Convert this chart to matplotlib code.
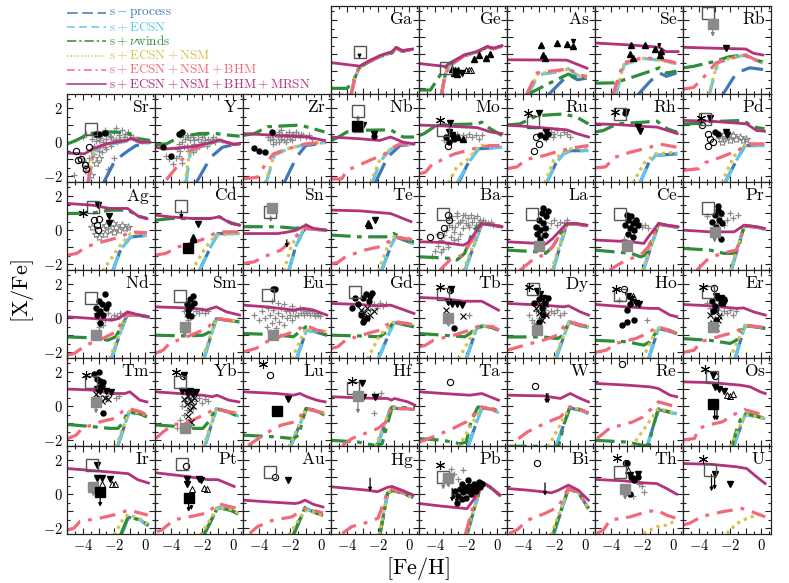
import matplotlib
matplotlib.use('Agg')
import matplotlib.pyplot as plt
from matplotlib.lines import Line2D
from matplotlib.ticker import MultipleLocator, FuncFormatter

plt.rcParams['mathtext.fontset'] = 'cm'
plt.rcParams['font.family'] = 'serif'

# panel order, None = empty slot (legend lives there)
LAYOUT = [[None, None, None, 'Ga', 'Ge', 'As', 'Se', 'Rb'],
          ['Sr', 'Y', 'Zr', 'Nb', 'Mo', 'Ru', 'Rh', 'Pd'],
          ['Ag', 'Cd', 'Sn', 'Te', 'Ba', 'La', 'Ce', 'Pr'],
          ['Nd', 'Sm', 'Eu', 'Gd', 'Tb', 'Dy', 'Ho', 'Er'],
          ['Tm', 'Yb', 'Lu', 'Hf', 'Ta', 'W', 'Re', 'Os'],
          ['Ir', 'Pt', 'Au', 'Hg', 'Pb', 'Bi', 'Th', 'U']]

# ---- model curves: element -> ([Fe/H] knots], [X/Fe] knots) ----
MRSN = {
    'Ga': ([-5, -3.2, -2.5, -1.8, -1.1, -0.85, -0.45, 0.2], [-0.5, -0.7, -0.35, -0.05, 0.15, 0.4, 0.2, 0.3]),
    'Ge': ([-5, -3.35, -2.15, -1.3, -0.65, -0.25, 0.3], [-0.55, -0.72, -0.05, 0.16, 0.45, 0.35, 0.5]),
    'As': ([-5, -1.2, 0.1], [-0.33, -0.35, -0.82]),
    'Se': ([-5, -3.0, -1.5, -0.9, -0.5, 0.3], [0.65, 0.55, 0.45, 0.4, 0.15, 0.15]),
    'Rb': ([-5, -3.1, -1.0, -0.5, 0.1], [0.4, 0.35, 0.3, 0.05, -0.05]),
    'Sr': ([-5, -3.9, -3.4, -2.5, -1.2, -0.9, -0.3, 0.3], [-0.64, -0.68, -0.4, -0.1, 0.1, 0.23, 0.0, 0.0]),
    'Y': ([-5, -4.3, -2.5, -1.3, -0.9, 0.0, 0.4], [-0.3, -0.4, -0.25, 0.0, 0.14, -0.14, -0.1]),
    'Zr': ([-5, -2.9, -0.9, 0.2], [0.5, 0.4, 0.3, 0.1]),
    'Nb': ([-5, -3.2, -1.9, -1.2, -0.4, 0.3], [0.3, 0.2, 0.1, 0.3, 0.0, -0.1]),
    'Mo': ([-5, -3.5, -1.3, -0.45, 0.3], [1.0, 0.95, 0.85, 0.6, 0.5]),
    'Ru': ([-5, -3.55, -2.25, -1.2, -0.55, 0.2], [1.0, 0.9, 0.8, 0.72, 0.5, 0.3]),
    'Rh': ([-5, -3.6, -1.9, -1.05, 0.25], [1.07, 1.03, 0.92, 0.88, 0.5]),
    'Pd': ([-5, -3.3, -0.95, -0.3, 0.2], [1.27, 1.23, 1.07, 0.68, 0.64]),
    'Ag': ([-5, -3.4, -2.3, -1.15, -0.4, 0.1], [1.56, 1.46, 1.27, 1.27, 0.78, 0.68]),
    'Cd': ([-5, -4.1, -2.6, -1.5, -0.9, -0.15, 0.4], [0.88, 0.78, 0.68, 0.68, 0.78, 0.39, 0.29]),
    'Sn': ([-5, -2.8, -2.1, -1.6, -1.0, -0.5, 0.3], [-0.2, -0.2, -0.1, 0.0, 0.3, 0.1, 0.0]),
    'Te': ([-5, -3.2, -1.2, 0.1], [1.17, 1.13, 0.97, 0.5]),
    'Ba': ([-5, -3.5, -2.2, -1.9, -1.0, -0.3, 0.3], [-0.68, -0.72, -0.88, -0.75, 0.39, 0.3, 0.2]),
    'La': ([-5, -3.0, -2.55, -2.1, -1.2, -0.6, 0.1], [-0.68, -0.78, -0.82, -0.49, 0.39, 0.39, 0.29]),
    'Ce': ([-5, -2.7, -1.9, -1.6, -0.95, -0.4, 0.3], [-0.58, -0.68, -0.78, -0.39, 0.39, 0.29, 0.2]),
    'Pr': ([-5, -3.3, -1.75, -1.1, -0.3, 0.2], [0.0, -0.1, -0.1, 0.29, 0.2, 0.1]),
    'Nd': ([-5, -3.4, -2.15, -1.7, -1.15, -0.4, 0.2], [0.08, -0.02, -0.12, -0.02, 0.37, 0.18, 0.08]),
    'Sm': ([-5, -3.0, -2.15, -1.75, -1.1, -0.45, 0.4], [0.66, 0.6, 0.53, 0.47, 0.66, 0.37, 0.18]),
    'Eu': ([-5, -3.5, -1.8, -1.15, -0.5, 0.35], [0.76, 0.66, 0.47, 0.57, 0.47, 0.18]),
    'Gd': ([-5, -3.2, -2.1, -1.2, -0.3, 0.3], [0.86, 0.8, 0.72, 0.76, 0.47, 0.27]),
    'Tb': ([-5, -3.47, -2.18, -1.0, 0.07], [1.21, 1.15, 0.99, 0.99, 0.47]),
    'Dy': ([-5, -2.69, -1.4, -1.08, -0.33, 0.2], [0.86, 0.76, 0.66, 0.72, 0.37, 0.18]),
    'Ho': ([-5, -3.0, -1.5, -0.96, -0.21, 0.22], [0.8, 0.66, 0.57, 0.57, 0.18, 0.08]),
    'Er': ([-5, -3.29, -1.58, -1.15, -0.5, 0.25], [0.8, 0.72, 0.57, 0.6, 0.37, 0.18]),
    'Tm': ([-5, -3.4, -2.15, -1.3, -1.0, -0.35, 0.1], [1.0, 0.94, 0.74, 0.74, 0.84, 0.35, 0.25]),
    'Yb': ([-5, -3.5, -2.0, -1.35, -1.05, -0.3, 0.35], [0.84, 0.74, 0.64, 0.55, 0.64, 0.35, 0.25]),
    'Lu': ([-5, -2.87, -1.8, -1.37, -0.94, -0.3, 0.24], [0.84, 0.74, 0.64, 0.74, 0.55, 0.35, 0.25]),
    'Hf': ([-5, -3.3, -2.0, -1.4, -1.15, -0.95, -0.1, 0.35], [0.55, 0.49, 0.45, 0.45, 0.35, 0.45, 0.25, 0.06]),
    'Ta': ([-5, -3.47, -1.76, -1.0, 0.07], [0.84, 0.74, 0.64, 0.74, 0.35]),
    'W': ([-5, -2.7, -1.6, -0.97, -0.33, 0.2], [0.64, 0.6, 0.45, 0.74, 0.45, 0.25]),
    'Re': ([-5, -3.0, -1.5, -0.96, -0.21, 0.22], [1.33, 1.23, 1.13, 1.03, 0.64, 0.55]),
    'Os': ([-5, -3.29, -1.36, -0.72, -0.07, 0.25], [1.42, 1.38, 1.23, 1.13, 0.84, 0.74]),
    'Ir': ([-5, -3.0, -1.1, -0.5, 0.2], [1.5, 1.35, 1.2, 0.85, 0.65]),
    'Pt': ([-5, -3.1, -1.65, -1.0, 0.05], [1.25, 1.05, 0.85, 0.85, 0.45]),
    'Au': ([-5, -3.5, -1.7, -1.4, -1.05, -0.5, 0.1], [-0.35, -0.45, -0.55, -0.5, -0.35, -0.6, -0.75]),
    'Hg': ([-5, -2.7, -2.05, -1.4, -1.1, -0.4, 0.25], [0.43, 0.23, 0.14, 0.4, 0.45, 0.2, -0.05]),
    'Pb': ([-5, -3.6, -1.95, -1.54, -1.0, -0.47, 0.17], [-0.55, -0.7, -0.85, -0.35, 0.72, 0.43, -0.06]),
    'Bi': ([-5, -3.66, -2.16, -1.73, -1.09, -0.45, 0.2], [0.33, 0.23, 0.08, 0.23, 0.53, 0.23, -0.35]),
    'Th': ([-5, -3.21, -1.93, -1.07, -0.43, 0.21], [0.86, 0.78, 0.66, 0.62, 0.33, 0.0]),
    'U': ([-5, -3.29, -1.58, -0.94, -0.3, 0.24], [1.79, 1.75, 1.6, 1.5, 1.01, 0.62]),
}

BHM = {
    'Ga': ([-3.75, -3.5, -3.2, -2.5, -1.8, -1.1, -0.85, -0.45, 0.2], [-2.4, -1.4, -0.75, -0.4, -0.1, 0.1, 0.38, 0.18, 0.28]),
    'Ge': ([-3.6, -3.35, -3.1, -2.15, -1.3, -0.65, -0.25, 0.3], [-2.4, -1.2, -0.7, -0.1, 0.12, 0.42, 0.32, 0.47]),
    'As': ([-3.8, -3.1, -1.4, -1.1, -0.5, 0.1], [-2.4, -1.1, -0.9, -0.8, -1.2, -1.3]),
    'Se': ([-3.9, -3.2, -1.9, -0.9, 0.2], [-2.4, -0.5, -0.2, -0.3, -0.5]),
    'Rb': ([-5, -4.35, -3.75, -2.9, -1.4, -1.0, -0.35, 0.1], [-2.05, -1.95, -1.4, -0.5, -0.1, -0.05, -0.35, -0.5]),
    'Sr': ([-3.7, -3.3, -2.5, -1.2, -0.9, -0.3, 0.3], [-2.4, -0.4, -0.1, 0.08, 0.22, 0.0, 0.0]),
    'Y': ([-4.3, -3.5, -3.2, -2.8, -1.9, -1.0, 0.0, 0.4], [-2.2, -1.3, -0.9, -0.5, -0.2, 0.1, -0.1, -0.1]),
    'Zr': ([-5, -4.1, -3.7, -3.1, -2.2, -1.0, 0.3], [-2.15, -2.05, -1.45, -0.7, -0.4, -0.1, 0.0]),
    'Nb': ([-5, -4.35, -4.0, -2.5, -1.6, -1.2, -0.6, 0.3], [-2.15, -2.15, -1.65, -1.05, -0.7, -0.4, -0.1, -0.1]),
    'Mo': ([-5, -4.6, -4.1, -3.7, -2.8, -1.95, -1.2, -0.45, 0.3], [-1.85, -1.75, -1.2, -1.1, -0.7, -0.5, -0.3, -0.2, -0.2]),
    'Ru': ([-5, -4.4, -3.75, -2.7, -1.6, -0.55, 0.2], [-1.55, -1.45, -1.0, -0.8, -0.5, -0.3, -0.2]),
    'Rh': ([-5, -4.35, -3.8, -2.8, -1.5, -0.95, 0.25], [-1.5, -1.45, -0.9, -0.6, -0.3, -0.1, -0.3]),
    'Pd': ([-5, -4.0, -3.6, -2.6, -1.55, -0.8, 0.2], [-1.65, -1.55, -1.2, -0.88, -0.5, -0.1, -0.1]),
    'Ag': ([-5, -4.4, -3.8, -2.75, -1.6, -0.95, 0.1], [-1.46, -1.36, -0.97, -0.68, -0.4, -0.1, -0.15]),
    'Cd': ([-5, -4.35, -3.5, -2.4, -1.55, -1.1, 0.4], [-1.46, -1.36, -0.97, -0.68, -0.4, -0.1, -0.1]),
    'Sn': ([-5, -4.3, -3.7, -2.6, -2.0, -1.45, -1.0, 0.3], [-1.95, -1.85, -1.56, -1.17, -0.68, -0.2, 0.1, 0.0]),
    'Te': ([-5, -4.6, -4.1, -2.9, -1.9, -1.35, -1.0, 0.3], [-1.95, -1.9, -1.56, -1.17, -0.97, -0.68, -0.39, -0.58]),
    'Ba': ([-3.7, -3.0, -2.2, -1.9, -1.0, -0.2, 0.3], [-2.35, -1.7, -1.45, -1.0, 0.39, 0.3, 0.2]),
    'La': ([-4.2, -3.4, -2.5, -2.1, -1.2, -0.6, 0.1], [-2.35, -1.75, -1.36, -0.97, 0.37, 0.37, 0.27]),
    'Ce': ([-4.1, -3.6, -3.0, -2.1, -1.6, -0.95, -0.4, 0.3], [-2.35, -2.05, -1.75, -1.46, -0.97, 0.37, 0.27, 0.18]),
    'Pr': ([-4.15, -3.5, -2.6, -1.6, -1.3, -1.1, -0.3, 0.2], [-2.35, -1.75, -1.36, -1.17, -0.39, 0.27, 0.18, 0.08]),
    'Nd': ([-5, -4.56, -3.81, -2.74, -1.88, -1.24, -0.4, 0.2], [-2.16, -2.07, -1.58, -1.19, -0.8, 0.2, 0.18, 0.08]),
    'Sm': ([-5, -4.5, -4.1, -3.0, -2.2, -1.6, -1.1, -0.4, 0.4], [-2.05, -1.87, -1.48, -1.09, -0.8, -0.51, -0.02, -0.1, -0.2]),
    'Eu': ([-5, -4.2, -3.5, -2.7, -1.8, -1.0, -0.3, 0.35], [-1.97, -1.77, -1.38, -1.09, -0.8, -0.41, -0.7, -0.8]),
    'Gd': ([-5, -4.6, -4.1, -2.7, -1.9, -1.5, -1.0, -0.2, 0.3], [-1.77, -1.68, -1.29, -0.9, -0.7, -0.41, -0.2, -0.3, -0.4]),
    'Tb': ([-5, -4.6, -4.1, -2.8, -1.75, -1.33, -1.0, -0.3, 0.1], [-1.68, -1.58, -1.29, -1.0, -0.7, -0.51, -0.45, -0.5, -0.7]),
    'Dy': ([-5, -4.6, -3.9, -2.7, -1.8, -1.4, -1.05, -0.3, 0.2], [-1.87, -1.77, -1.58, -1.29, -1.0, -0.51, -0.2, -0.4, -0.5]),
    'Ho': ([-5, -4.3, -3.7, -2.4, -1.7, -1.0, -0.3, 0.2], [-2.0, -1.87, -1.48, -1.19, -0.9, -0.51, -0.7, -0.9]),
    'Er': ([-5, -4.3, -3.9, -2.4, -1.6, -1.05, -0.3, 0.25], [-2.0, -1.87, -1.38, -0.99, -0.8, -0.41, -0.5, -0.55]),
    'Tm': ([-5, -4.45, -4.05, -2.9, -2.0, -1.5, -1.05, -0.3, 0.1], [-1.9, -1.7, -1.3, -0.92, -0.72, -0.33, -0.14, -0.33, -0.53]),
    'Yb': ([-5, -4.5, -3.9, -2.6, -1.95, -1.1, -0.3, 0.35], [-1.9, -1.5, -1.11, -0.82, -0.53, -0.14, -0.33, -0.4]),
    'Lu': ([-4.7, -4.05, -3.6, -2.55, -1.7, -1.3, -0.95, -0.3, 0.2], [-2.3, -1.9, -1.6, -1.1, -0.92, -0.53, -0.14, -0.3, -0.4]),
    'Hf': ([-4.3, -3.7, -2.85, -2.0, -1.5, -1.2, -0.2, 0.3], [-2.3, -1.9, -1.6, -1.3, -0.92, -0.14, -0.14, -0.2]),
    'Ta': ([-5, -4.4, -3.0, -2.0, -1.35, -1.0, -0.3, 0.1], [-2.1, -1.9, -1.37, -0.92, -0.33, -0.05, -0.2, -0.4]),
    'W': ([-4.3, -3.7, -2.4, -1.6, -1.0, -0.3, 0.2], [-1.9, -1.5, -0.92, -0.63, -0.05, -0.2, -0.4]),
    'Re': ([-4.9, -4.1, -2.6, -1.95, -0.96, -0.21, 0.22], [-1.9, -1.3, -0.92, -0.63, 0.25, 0.06, -0.04]),
    'Os': ([-5, -4.3, -4.0, -3.4, -2.5, -1.85, -1.4, -1.1, -0.3, 0.25], [-1.97, -1.9, -1.3, -1.1, -0.92, -0.53, -0.33, -0.2, -0.4, -0.6]),
    'Ir': ([-5, -4.6, -4.2, -2.9, -1.95, -1.1, -0.35, 0.15], [-2.1, -2.0, -1.6, -1.4, -1.2, -0.94, -1.1, -1.23]),
    'Pt': ([-4.9, -4.6, -3.8, -2.7, -1.65, -1.0, -0.15, 0.3], [-2.2, -2.1, -1.5, -1.3, -1.1, -0.55, -0.75, -0.85]),
    'Au': ([-4.6, -4.1, -3.2, -1.9, -1.05, -0.5, 0.1], [-2.3, -1.9, -1.55, -1.33, -0.85, -0.95, -1.1]),
    'Hg': ([-4.3, -3.7, -2.5, -2.0, -1.7, -1.4, -1.1, -0.4, 0.25], [-2.3, -1.9, -1.6, -1.4, -0.6, 0.15, 0.3, 0.1, -0.15]),
    'Pb': ([-2.05, -1.5, -1.0, -0.47, 0.17], [-2.35, -0.5, 0.7, 0.41, -0.08]),
    'Bi': ([-4.9, -4.4, -3.66, -2.6, -1.73, -1.1, -0.45, 0.2], [-2.3, -2.1, -1.5, -1.13, -0.74, 0.33, 0.14, -0.84]),
    'Th': ([-4.92, -4.49, -4.06, -2.78, -1.71, -1.07, -0.43, 0.21], [-2.3, -2.1, -1.52, -1.33, -1.03, -0.94, -1.23, -1.42]),
    'U': ([-5, -4.6, -3.8, -2.5, -1.25, -0.6, 0.25], [-1.8, -1.7, -1.3, -1.03, -0.84, -1.03, -1.33]),
}

NSM = {
    'Ga': BHM['Ga'], 'Ge': BHM['Ge'],
    'As': ([-3.75, -3.05, -1.4, -1.1, -0.5, 0.1], [-2.4, -1.15, -0.95, -0.85, -1.25, -1.35]),
    'Se': ([-3.75, -3.15, -1.9, -0.9, 0.2], [-2.4, -0.55, -0.25, -0.35, -0.55]),
    'Rb': ([-3.4, -2.8, -1.4, -1.0, -0.35, 0.1], [-2.4, -0.45, -0.1, -0.05, -0.35, -0.5]),
    'Sr': ([-3.7, -3.3, -2.5, -1.2, -0.9, -0.3, 0.3], [-2.4, -0.45, -0.12, 0.06, 0.2, -0.02, -0.02]),
    'Y': ([-3.1, -2.8, -1.9, -1.0, 0.0, 0.4], [-2.4, -0.5, -0.2, 0.1, -0.1, -0.1]),
    'Zr': ([-3.6, -3.0, -2.2, -1.0, 0.3], [-2.4, -0.7, -0.4, -0.1, 0.0]),
    'Nb': ([-2.5, -1.9, -1.2, -0.6, 0.3], [-2.4, -1.05, -0.4, -0.1, -0.1]),
    'Mo': ([-3.15, -2.6, -1.85, -1.4, -1.2, 0.3], [-2.4, -1.45, -0.97, -0.5, -0.2, -0.2]),
    'Ru': ([-2.6, -2.05, -1.4, -0.95, 0.2], [-2.4, -1.07, -0.58, -0.39, -0.3]),
    'Rh': ([-2.6, -1.9, -1.15, 0.25], [-2.4, -1.26, -0.68, -0.6]),
    'Pd': ([-2.55, -1.8, -1.15, 0.2], [-2.4, -0.88, -0.2, -0.1]),
    'Ag': ([-2.75, -1.6, -0.95, 0.1], [-2.4, -0.88, -0.2, -0.2]),
    'Cd': ([-2.7, -1.75, -1.1, 0.4], [-2.4, -0.97, -0.29, -0.2]),
    'Sn': ([-2.4, -1.95, -1.5, -1.0, 0.3], [-2.4, -0.97, -0.2, 0.1, 0.0]),
    'Te': ([-2.0, -1.4, -1.0, 0.3], [-2.4, -0.97, -0.39, -0.5]),
    'Ba': ([-2.2, -1.0, -0.2, 0.3], [-2.4, 0.39, 0.3, 0.2]),
    'La': ([-2.2, -1.2, -0.6, 0.1], [-2.4, 0.37, 0.37, 0.27]),
    'Ce': ([-2.0, -0.95, -0.4, 0.3], [-2.4, 0.37, 0.27, 0.18]),
    'Pr': ([-2.0, -1.1, -0.3, 0.2], [-2.4, 0.27, 0.18, 0.08]),
    'Nd': ([-2.3, -1.2, -0.4, 0.2], [-2.4, 0.22, 0.18, 0.08]),
    'Sm': ([-2.0, -1.1, -0.4, 0.4], [-2.4, -0.02, -0.1, -0.2]),
    'Eu': ([-1.9, -1.0, -0.4, 0.35], [-2.4, -0.6, -0.7, -0.8]),
    'Gd': ([-2.7, -1.9, -1.0, -0.2, 0.3], [-2.4, -1.0, -0.25, -0.3, -0.4]),
    'Tb': ([-2.5, -1.33, -1.0, -0.3, 0.1], [-2.4, -0.51, -0.45, -0.5, -0.7]),
    'Dy': ([-2.0, -1.05, -0.3, 0.2], [-2.4, -0.2, -0.4, -0.5]),
    'Ho': ([-2.0, -1.0, -0.3, 0.2], [-2.4, -0.51, -0.7, -0.9]),
    'Er': ([-2.05, -1.05, -0.3, 0.25], [-2.4, -0.41, -0.5, -0.55]),
    'Tm': ([-1.9, -1.05, -0.3, 0.1], [-2.4, -0.33, -0.4, -0.55]),
    'Yb': ([-1.95, -1.1, -0.3, 0.35], [-2.4, -0.14, -0.33, -0.4]),
    'Lu': ([-2.1, -0.95, -0.3, 0.2], [-2.4, -0.14, -0.3, -0.4]),
    'Hf': ([-2.2, -1.2, -0.2, 0.3], [-2.4, -0.1, -0.14, -0.2]),
    'Ta': ([-2.5, -1.0, -0.3, 0.1], [-2.4, -0.05, -0.2, -0.4]),
    'W': ([-2.4, -1.0, -0.3, 0.2], [-2.4, -0.05, -0.2, -0.4]),
    'Re': ([-2.7, -0.96, -0.3, 0.22], [-2.4, -0.14, -0.3, -0.45]),
    'Os': ([-2.0, -1.05, -0.3, 0.25], [-2.4, -0.5, -0.6, -0.75]),
    'Ir': ([-2.0, -1.4, -1.1, -0.35, 0.15], [-2.4, -1.4, -1.2, -1.45, -1.75]),
    'Pt': ([-2.1, -1.0, -0.15, 0.3], [-2.4, -0.75, -0.9, -1.1]),
    'Au': ([-2.1, -1.05, -0.5, 0.1], [-2.4, -0.95, -1.05, -1.25]),
    'Hg': ([-1.95, -1.4, -1.1, -0.4, 0.25], [-2.4, 0.1, 0.25, 0.05, -0.2]),
    'Pb': ([-2.0, -1.0, -0.47, 0.17], [-2.4, 0.7, 0.41, -0.08]),
    'Bi': ([-2.2, -1.1, -0.45, 0.2], [-2.4, 0.3, 0.1, -0.84]),
    'Th': ([-1.93, -1.07, -0.43, 0.21], [-2.3, -1.91, -1.81, -1.52]),
    'U': ([-2.22, -1.58, -0.94, -0.3, 0.24], [-2.3, -1.72, -1.42, -1.23, -1.13]),
}

ECSN = {
    'Ga': BHM['Ga'], 'Ge': BHM['Ge'],
    'As': ([-3.7, -3.0, -1.4, -1.1, -0.5, 0.1], [-2.4, -1.2, -1.0, -0.85, -1.25, -1.3]),
    'Se': ([-3.7, -3.15, -1.9, -0.9, 0.2], [-2.4, -0.6, -0.25, -0.35, -0.55]),
    'Rb': ([-3.35, -2.8, -1.4, -1.0, -0.35, 0.1], [-2.4, -0.5, -0.12, -0.07, -0.37, -0.52]),
    'Sr': ([-3.65, -3.3, -2.5, -1.2, -0.9, -0.3, 0.3], [-2.4, -0.5, -0.15, 0.05, 0.18, -0.04, -0.04]),
    'Y': ([-3.05, -2.75, -1.9, -1.0, 0.0, 0.4], [-2.4, -0.55, -0.22, 0.08, -0.12, -0.12]),
    'Zr': ([-3.55, -3.0, -2.2, -1.0, 0.3], [-2.4, -0.75, -0.42, -0.12, -0.02]),
    'Nb': ([-2.4, -1.85, -1.2, -0.6, 0.3], [-2.4, -1.1, -0.42, -0.12, -0.12]),
    'Mo': ([-2.6, -1.75, -1.2, 0.3], [-2.4, -1.07, -0.39, -0.3]),
    'Ru': ([-2.5, -1.9, -1.4, -0.95, 0.2], [-2.4, -1.26, -0.68, -0.5, -0.5]),
    'Rh': ([-2.15, -1.6, -1.15, 0.25], [-2.4, -1.26, -0.78, -0.68]),
    'Pd': ([-2.35, -1.6, -1.05, 0.2], [-2.4, -1.07, -0.2, -0.2]),
    'Ag': ([-2.1, -1.6, -0.95, 0.1], [-2.4, -1.17, -0.4, -0.3]),
    'Cd': ([-2.2, -1.45, -1.0, 0.4], [-2.4, -0.97, -0.2, -0.2]),
    'Sn': ([-2.1, -1.65, -1.2, -1.0, 0.3], [-2.4, -0.97, -0.1, 0.1, 0.0]),
    'Te': ([-1.8, -1.2, -0.9, 0.3], [-2.4, -0.97, -0.39, -0.8]),
    'Ba': ([-2.1, -1.0, -0.2, 0.3], [-2.4, 0.37, 0.28, 0.18]),
    'La': ([-2.1, -1.2, -0.6, 0.1], [-2.4, 0.35, 0.35, 0.25]),
    'Ce': ([-1.95, -0.95, -0.4, 0.3], [-2.4, 0.35, 0.25, 0.16]),
    'Pr': ([-1.95, -1.1, -0.3, 0.2], [-2.4, 0.25, 0.16, 0.06]),
    'Nd': ([-2.2, -1.15, -0.4, 0.2], [-2.4, 0.3, 0.16, 0.06]),
    'Sm': ([-1.9, -1.1, -0.4, 0.4], [-2.4, -0.04, -0.12, -0.22]),
    'Eu': ([-1.6, -0.95, -0.4, 0.35], [-2.4, -0.7, -0.8, -1.0]),
    'Gd': ([-2.0, -1.0, -0.2, 0.3], [-2.4, -0.25, -0.4, -0.5]),
    'Tb': ([-2.0, -1.33, -1.0, -0.3, 0.1], [-2.4, -0.6, -0.45, -0.55, -0.7]),
    'Dy': ([-1.9, -1.05, -0.3, 0.2], [-2.4, -0.22, -0.45, -0.55]),
    'Ho': ([-1.6, -0.95, -0.3, 0.2], [-2.4, -0.6, -0.75, -0.9]),
    'Er': ([-1.7, -1.05, -0.3, 0.25], [-2.4, -0.45, -0.52, -0.6]),
    'Tm': ([-1.8, -1.05, -0.3, 0.1], [-2.4, -0.35, -0.45, -0.6]),
    'Yb': ([-1.85, -1.1, -0.3, 0.35], [-2.4, -0.16, -0.35, -0.6]),
    'Lu': ([-2.0, -0.95, -0.3, 0.2], [-2.4, -0.16, -0.3, -0.5]),
    'Hf': ([-2.1, -1.2, -0.2, 0.3], [-2.4, -0.12, -0.16, -0.2]),
    'Ta': ([-1.9, -1.0, -0.3, 0.1], [-2.4, -0.1, -0.2, -0.4]),
    'W': ([-1.9, -1.0, -0.3, 0.2], [-2.4, -0.1, -0.25, -0.45]),
    'Re': ([-1.7, -0.96, -0.3, 0.2], [-2.4, -0.2, -0.35, -0.45]),
    'Os': ([-1.8, -1.05, -0.3, 0.25], [-2.4, -0.5, -0.6, -0.75]),
    'Ir': ([-1.55, -1.1, -0.35, 0.2], [-2.4, -1.35, -1.5, -1.85]),
    'Pt': ([-1.9, -1.0, -0.15, 0.3], [-2.4, -0.78, -0.95, -1.15]),
    'Au': ([-1.8, -1.05, -0.5, 0.1], [-2.4, -0.8, -1.05, -1.25]),
    'Hg': ([-1.9, -1.4, -1.1, -0.4, 0.25], [-2.4, 0.05, 0.22, 0.05, -0.2]),
    'Pb': ([-1.95, -1.0, -0.47, 0.17], [-2.4, 0.7, 0.41, -0.08]),
    'Bi': ([-2.05, -1.1, -0.45, 0.2], [-2.4, 0.3, 0.1, -0.84]),
}

S_PROCESS = dict(ECSN)
S_PROCESS.update({
    'As': ([-2.4, -1.1, -0.5, 0.08], [-2.4, -1.2, -1.5, -1.4]),
    'Se': ([-2.3, -1.5, -0.9, -0.45, 0.2], [-2.4, -1.6, -1.1, -1.3, -1.1]),
    'Rb': ([-2.5, -1.6, -0.75, 0.1], [-2.4, -1.1, -0.8, -0.9]),
    'Sr': ([-2.7, -1.95, -1.1, -0.6, 0.2], [-2.4, -1.07, -0.5, -0.2, -0.06]),
    'Y': ([-2.4, -1.45, -0.7, 0.2], [-2.4, -0.88, -0.3, -0.1]),
    'Zr': ([-2.4, -1.6, -1.0, 0.1], [-2.4, -0.88, -0.2, -0.06]),
    'Nb': ([-2.2, -1.4, -0.6, 0.3], [-2.4, -0.88, -0.2, -0.12]),
    'Mo': ([-2.5, -1.95, -1.55, -1.2, 0.3], [-2.4, -1.36, -0.78, -0.39, -0.3]),
})

NU_WINDS = {
    'Ga': ([-5, -4.0, -3.6, -3.3, -3.1, -2.5, -1.8, -1.1, -0.85, -0.45, 0.2], [-2.0, -2.0, -1.6, -0.9, -0.7, -0.42, -0.12, 0.08, 0.36, 0.16, 0.26]),
    'Ge': ([-5, -4.3, -3.45, -3.1, -2.15, -1.3, -0.65, -0.25, 0.3], [-2.1, -2.1, -0.92, -0.55, -0.1, 0.12, 0.42, 0.32, 0.47]),
    'As': ([-3.8, -2.3, -1.4, -1.1, -0.5, 0.08], [-2.4, -1.7, -1.3, -1.17, -1.4, -1.4]),
    'Se': ([-5, -3.8, -2.8, -1.5, -0.9, -0.45, 0.2], [-1.7, -1.68, -1.4, -1.0, -0.8, -1.1, -1.0]),
    'Rb': ([-5, -4.4, -3.1, -2.05, -1.1, -0.35, 0.1], [-0.8, -0.72, -0.45, -0.15, -0.05, -0.35, -0.45]),
    'Sr': ([-5, -4.45, -3.6, -2.3, -1.2, -0.4, 0.3], [-0.1, 0.1, 0.5, 0.6, 0.55, 0.2, 0.1]),
    'Y': ([-5, -4.3, -3.45, -2.2, -1.3, -0.2, 0.4], [-0.15, -0.1, 0.3, 0.5, 0.52, 0.4, 0.35]),
    'Zr': ([-5, -4.3, -3.45, -1.4, -0.9, 0.2], [0.4, 0.5, 0.9, 1.0, 0.88, 0.6]),
    'Nb': ([-5, -4.55, -4.0, -2.7, -1.2, -0.4, 0.3], [0.1, 0.3, 0.6, 0.7, 0.72, 0.3, 0.3]),
    'Mo': ([-5, -4.7, -3.9, -1.3, -1.0, -0.45, 0.3], [0.4, 0.5, 1.0, 1.07, 1.17, 0.78, 0.39]),
    'Ru': ([-5, -4.2, -3.1, -1.4, -0.55, 0.2], [1.0, 1.07, 1.55, 1.65, 1.46, 1.07]),
    'Rh': ([-5, -4.5, -3.6, -1.9, -1.05, -0.4, 0.25], [0.6, 0.68, 1.07, 1.17, 1.23, 0.78, 0.58]),
    'Pd': ([-5, -3.9, -3.3, -1.2, -0.45, 0.2], [1.07, 1.1, 1.2, 1.27, 0.88, 0.78]),
    'Ag': ([-5, -3.4, -2.3, -1.15, -0.4, 0.1], [0.97, 1.0, 1.17, 1.17, 0.82, 0.68]),
    'Cd': ([-5, -4.0, -1.5, -0.9, -0.15, 0.4], [0.58, 0.68, 0.68, 0.78, 0.43, 0.29]),
    'Sn': ([-5, -2.8, -1.6, -1.0, -0.5, 0.3], [0.2, 0.2, 0.1, 0.3, 0.05, 0.0]),
    'Te': ([-5, -3.2, -1.5, -1.0, -0.2, 0.3], [-0.29, -0.39, -0.39, -0.2, -0.58, -0.68]),
    'Ba': ([-5, -2.8, -2.6, -2.1, -1.55, -1.0, -0.2, 0.3], [-1.56, -1.66, -1.75, -1.36, 0.0, 0.39, 0.3, 0.2]),
    'La': ([-5, -3.0, -2.55, -2.1, -1.2, -0.6, 0.1], [-1.17, -1.27, -1.36, -0.97, 0.37, 0.37, 0.27]),
    'Ce': ([-5, -2.7, -2.1, -1.8, -1.45, -0.95, -0.4, 0.3], [-1.17, -1.36, -1.56, -1.46, -0.78, 0.37, 0.27, 0.18]),
    'Pr': ([-5, -3.3, -2.4, -1.75, -1.45, -1.1, -0.3, 0.2], [-1.07, -1.17, -1.36, -1.36, -0.97, 0.27, 0.18, 0.08]),
    'Nd': ([-5, -3.4, -2.4, -1.9, -1.15, -0.4, 0.2], [-1.1, -1.15, -1.29, -1.09, 0.18, 0.18, 0.08]),
    'Sm': ([-5, -3.0, -1.95, -1.5, -1.1, -0.4, 0.4], [-1.0, -1.04, -1.0, -0.8, -0.02, -0.12, -0.22]),
    'Eu': ([-5, -3.1, -1.8, -1.4, -1.0, -0.35, 0.35], [-0.9, -0.96, -1.09, -0.8, -0.51, -0.7, -1.0]),
    'Gd': ([-5, -3.2, -1.9, -1.45, -1.0, -0.2, 0.3], [-1.0, -1.04, -1.09, -0.8, -0.2, -0.41, -0.51]),
    'Tb': ([-5, -3.47, -2.1, -1.75, -1.33, -0.5, 0.07], [-0.9, -1.0, -1.09, -0.9, -0.51, -0.51, -0.7]),
    'Dy': ([-5, -2.7, -1.8, -1.4, -1.08, -0.33, 0.2], [-1.1, -1.1, -1.2, -1.0, -0.2, -0.41, -0.51]),
    'Ho': ([-5, -3.0, -1.9, -1.5, -0.96, -0.3, 0.22], [-1.3, -1.38, -1.58, -1.38, -0.6, -0.7, -0.9]),
    'Er': ([-5, -3.3, -2.0, -1.6, -1.1, -0.3, 0.25], [-1.2, -1.3, -1.48, -1.29, -0.41, -0.51, -0.6]),
    'Tm': ([-5, -3.4, -2.3, -1.75, -1.4, -1.15, -0.4, 0.1], [-1.07, -1.2, -1.3, -1.3, -0.92, -0.33, -0.43, -0.63]),
    'Yb': ([-5, -3.4, -2.55, -1.95, -1.6, -1.1, -0.3, 0.35], [-1.1, -1.2, -1.3, -1.3, -0.92, -0.14, -0.33, -0.63]),
    'Lu': ([-5, -2.9, -1.8, -1.45, -1.0, -0.3, 0.2], [-1.7, -1.8, -1.9, -1.7, -0.14, -0.24, -0.53]),
    'Hf': ([-5, -3.3, -2.2, -1.75, -1.45, -1.1, -0.1, 0.35], [-2.0, -2.1, -2.3, -2.2, -1.17, -0.05, -0.1, -0.15]),
    'Ta': ([-5, -3.5, -2.4, -2.0, -1.7, -1.25, -0.3, 0.07], [-1.9, -2.0, -2.2, -2.1, -0.92, -0.05, -0.15, -0.3]),
    'W': ([-5, -2.7, -2.0, -1.7, -1.35, -1.0, -0.3, 0.2], [-2.35, -2.35, -2.4, -2.3, -1.0, -0.05, -0.2, -0.4]),
    'Re': ([-5, -3.0, -1.9, -1.6, -1.3, -0.96, -0.3, 0.22], [-2.0, -2.1, -2.3, -2.3, -1.2, -0.14, -0.33, -0.43]),
    'Os': ([-1.9, -1.5, -1.15, -0.5, 0.25], [-2.4, -1.12, -0.43, -0.53, -0.72]),
    'Ir': ([-1.6, -1.1, -0.35, 0.2], [-2.4, -1.33, -1.5, -1.8]),
    'Pt': ([-1.9, -1.0, -0.15, 0.3], [-2.4, -0.75, -0.95, -1.15]),
    'Au': ([-1.8, -1.05, -0.5, 0.1], [-2.4, -0.78, -1.03, -1.23]),
    'Hg': ([-1.9, -1.4, -1.1, -0.4, 0.25], [-2.4, 0.05, 0.22, 0.05, -0.2]),
    'Pb': ([-2.0, -1.0, -0.47, 0.17], [-2.4, 0.7, 0.41, -0.08]),
    'Bi': ([-2.1, -1.1, -0.45, 0.2], [-2.4, 0.3, 0.1, -0.84]),
}

# ---- observed stars: element -> [(Fe/H, X/Fe), ...] ----
GREY_PLUS = {
    'Sr': [(-3.6, -0.9), (-3.5, -0.5), (-3.4, 0.2), (-3.3, -0.2), (-3.2, 0.3), (-3.1, -0.4), (-3.0, 0.1), (-2.9, -0.2),
           (-2.8, 0.4), (-2.7, 0.0), (-2.6, -0.3), (-2.5, 0.2), (-2.4, 0.5), (-2.3, -0.1), (-2.2, 0.3), (-2.1, 0.1),
           (-2.0, 0.6), (-1.9, 0.2), (-1.8, 0.0), (-1.7, 0.4), (-1.6, 0.2), (-1.5, 0.7), (-1.4, 0.3), (-1.3, 0.5),
           (-1.2, 0.2), (-1.0, 0.4), (-0.8, 0.3), (-0.6, 0.2), (-0.4, 0.1), (-3.3, -0.7), (-3.0, -0.5), (-2.8, -0.6),
           (-2.5, -0.4), (-2.2, -0.2), (-4.0, 0.3), (-3.8, 0.5), (-4.6, -1.9), (-3.9, -1.7), (-2.4, -1.6),
           (-2.0, -0.9), (-2.6, 0.7), (-1.9, 0.8), (-3.4, 0.5), (-3.1, 0.55), (-2.9, 0.25), (-2.3, 0.35),
           (-1.7, 0.1), (-1.1, 0.6), (-2.7, -0.15), (-3.2, 0.05)],
    'Y': [(-3.6, -0.4), (-3.5, -0.1), (-3.4, -0.5), (-3.3, 0.0), (-3.2, -0.3), (-3.1, 0.2), (-3.0, -0.2), (-2.9, -0.5),
          (-2.8, 0.1), (-2.7, -0.3), (-2.6, 0.3), (-2.5, -0.1), (-2.4, -0.4), (-2.3, 0.2), (-2.2, -0.2), (-2.1, 0.0),
          (-2.0, 0.3), (-1.9, -0.1), (-1.8, 0.1), (-1.7, -0.2), (-1.6, 0.2), (-1.5, 0.0), (-1.4, 0.1), (-1.3, 0.3),
          (-1.2, 0.0), (-1.1, 0.2), (-3.0, 0.4), (-2.6, -0.6), (-4.3, -0.8), (-4.1, -1.0), (-3.9, -1.3),
          (-3.7, -0.9), (-3.5, -0.8), (-3.3, -1.2), (-2.9, 0.3), (-2.3, 0.4), (-1.9, 0.4), (-2.5, 0.15)],
    'Zr': [(-3.3, 0.1), (-3.2, 0.4), (-3.1, 0.2), (-3.0, 0.5), (-2.9, 0.0), (-2.8, 0.3), (-2.7, 0.6), (-2.6, 0.2),
           (-2.5, 0.4), (-2.4, 0.1), (-2.3, 0.5), (-2.2, 0.3), (-2.1, 0.6), (-2.0, 0.2), (-1.9, 0.4), (-1.8, 0.5),
           (-1.7, 0.3), (-1.6, 0.6), (-1.5, 0.4), (-1.4, 0.3), (-1.3, 0.5), (-1.2, 0.4), (-1.0, 0.3), (-0.8, 0.4),
           (-0.6, 0.2), (-3.1, -0.1), (-2.7, 0.0), (-2.3, 0.0), (-1.9, 0.1), (-2.6, 0.7), (-3.4, 0.3)],
    'Mo': [(-2.8, 0.3), (-2.6, 0.5), (-2.4, 0.2), (-2.2, 0.4), (-2.0, 0.3), (-1.8, 0.5), (-1.6, 0.3), (-1.4, 0.4),
           (-1.2, 0.2), (-1.0, 0.4), (-3.4, 0.1), (-3.2, 0.0)],
    'Ru': [(-2.8, 0.5), (-2.6, 0.7), (-2.4, 0.4), (-2.2, 0.6), (-2.0, 0.5), (-1.8, 0.7), (-1.6, 0.4), (-1.4, 0.6),
           (-1.2, 0.5), (-1.0, 0.3), (-2.5, 0.2), (-2.1, 0.3)],
    'Ba': [(-4.2, -1.5), (-4.0, -1.2), (-3.8, -0.9), (-3.6, -0.6), (-3.5, -1.1), (-3.4, -0.3), (-3.3, 0.0), (-3.2, -0.8),
           (-3.1, 0.3), (-3.0, -0.4), (-2.9, 0.6), (-2.8, -0.1), (-2.7, 0.2), (-2.6, 0.8), (-2.5, 0.4), (-2.4, -0.2),
           (-2.3, 0.6), (-2.2, 0.1), (-2.1, 0.9), (-2.0, 0.4), (-1.9, 0.7), (-1.8, 0.2), (-1.7, 0.9), (-1.6, 0.5),
           (-1.5, 0.7), (-1.4, 0.3), (-1.3, 0.8), (-1.2, 0.5), (-1.1, 0.6), (-1.0, 0.4), (-0.9, 0.6), (-0.8, 0.5),
           (-0.6, 0.4), (-0.4, 0.5), (-0.3, 0.3), (-3.6, -1.3), (-3.2, -1.0), (-2.8, -0.6), (-2.5, -0.5),
           (-3.0, 0.8), (-2.6, 1.0), (-2.2, 0.9), (-3.8, -0.2), (-2.9, 0.2), (-2.4, 0.5), (-1.9, 0.3)],
    'La': [(-3.0, 0.2), (-2.8, -0.3), (-2.6, 0.5), (-2.4, 0.1), (-2.2, 0.4), (-2.0, 0.6), (-1.8, 0.3), (-1.6, 0.5),
           (-1.4, 0.4), (-1.2, 0.6), (-2.9, -0.6), (-2.5, -0.2)],
    'Ce': [(-2.8, 0.0), (-2.6, 0.3), (-2.4, 0.1), (-2.2, 0.4), (-2.0, 0.2), (-1.8, 0.3), (-1.6, 0.1), (-2.9, -0.3),
           (-2.5, -0.1), (-3.2, -0.5)],
    'Pr': [(-2.8, 0.4), (-2.6, 0.8), (-2.4, 0.3), (-2.2, 0.6), (-2.0, 1.0), (-1.8, 0.7), (-1.5, 0.9), (-3.5, 0.8),
           (-3.2, 0.5)],
    'Nd': [(-3.2, 0.3), (-3.0, -0.2), (-2.8, 0.2), (-2.6, -0.1), (-2.4, 0.3), (-2.2, 0.0), (-2.0, 0.2), (-1.8, 0.1),
           (-1.6, 0.3), (-1.4, 0.1), (-1.2, 0.2), (-3.0, -0.5), (-2.7, -0.4)],
    'Sm': [(-3.2, 0.4), (-3.0, 0.1), (-2.8, 0.5), (-2.6, 0.2), (-2.4, 0.4), (-2.2, 0.3), (-2.0, 0.5), (-1.8, 0.3),
           (-1.6, 0.4), (-2.9, -0.1)],
    'Eu': [(-4.3, 0.2), (-4.0, -0.1), (-3.8, 0.4), (-3.6, 0.0), (-3.5, -0.5), (-3.4, 0.6), (-3.3, 0.2), (-3.2, -0.3),
           (-3.1, 0.5), (-3.0, 0.0), (-2.9, -0.6), (-2.8, 0.3), (-2.7, -0.2), (-2.6, 0.6), (-2.5, 0.1), (-2.4, -0.4),
           (-2.3, 0.4), (-2.2, 0.0), (-2.1, 0.5), (-2.0, 0.2), (-1.9, -0.1), (-1.8, 0.4), (-1.7, 0.1), (-1.6, 0.5),
           (-1.5, 0.2), (-1.4, 0.6), (-1.3, 0.3), (-1.2, 0.5), (-1.1, 0.2), (-1.0, 0.4), (-0.9, 0.3), (-0.8, 0.5),
           (-0.7, 0.2), (-0.6, 0.4), (-0.5, 0.3), (-0.4, 0.1), (-0.3, 0.3), (-0.2, 0.2), (-0.1, 0.1), (-3.3, -0.8),
           (-3.0, -1.0), (-2.8, 0.9), (-3.2, 1.0), (-2.4, 0.8), (-1.9, 0.7)],
    'Gd': [(-2.5, 0.5), (-2.3, 0.8), (-2.1, 0.6), (-1.9, 0.9), (-1.7, 0.7), (-1.5, 0.8), (-3.0, 0.4), (-2.8, 0.1)],
    'Tb': [(-1.8, 0.2)],
    'Dy': [(-3.6, 0.2), (-3.4, -0.1), (-3.2, 0.4), (-3.0, 0.0), (-2.8, 0.3), (-2.6, 0.5), (-2.4, 0.2), (-2.2, 0.4),
           (-2.0, 0.3), (-1.8, 0.5), (-1.6, 0.2), (-1.4, 0.3), (-3.3, -0.3)],
    'Ho': [(-3.5, 1.05), (-1.7, -0.1), (-2.6, 0.9)],
    'Er': [(-3.5, 0.9), (-3.2, 0.3), (-3.0, 0.0), (-2.8, 0.5), (-2.6, 0.2), (-2.4, 0.4), (-2.2, 0.3), (-2.0, 0.5),
           (-1.8, 0.2), (-1.6, 0.4), (-3.3, 0.6)],
    'Tm': [(-2.5, 0.6), (-2.2, 0.7), (-1.9, 0.5), (-1.7, 0.6), (-3.0, 0.4)],
    'Yb': [(-3.6, -1.3), (-3.4, -0.8), (-3.3, 0.0), (-3.2, -0.5), (-3.1, 0.3), (-3.0, -0.2), (-2.9, 0.5), (-2.8, 0.1),
           (-2.7, 0.4), (-2.6, -0.1), (-2.4, 0.3), (-2.2, 0.5), (-2.0, 0.2), (-1.8, 0.4), (-1.6, 0.3), (-3.0, -0.9),
           (-2.7, -1.1)],
    'Hf': [(-2.3, 0.7), (-2.0, 0.6), (-2.3, -0.4), (-1.8, 0.75)],
    'Pb': [(-3.0, 1.5), (-2.5, 0.9), (-2.2, 1.4), (-2.8, 1.2)],
    'Th': [(-2.2, 0.6), (-2.0, 0.5), (-2.6, -0.1), (-1.9, 0.1)],
}

GREY_STAR = {
    'Sr': [(-4.2, -1.0), (-3.9, -1.2), (-3.7, -1.5), (-3.5, -1.9), (-3.2, -1.2), (-3.0, -0.9)],
    'Pd': [(-2.8, 0.4), (-2.6, 0.2), (-2.4, 0.5), (-2.2, 0.3), (-2.0, 0.1), (-1.8, 0.4), (-1.6, 0.2), (-1.4, 0.3),
           (-1.2, 0.1), (-1.0, 0.2), (-2.5, 0.0), (-2.1, 0.5)],
    'Ag': [(-3.4, 0.2), (-3.2, -0.2), (-3.0, -0.4), (-2.7, 0.1), (-2.5, 0.3), (-2.3, 0.0), (-2.1, 0.4), (-1.9, 0.2),
           (-1.7, 0.0), (-1.5, 0.3), (-1.3, 0.1), (-1.1, 0.2), (-2.6, -0.2), (-2.0, -0.1)],
}

BLACK_DOT = {
    'Sr': [(-3.2, 0.5), (-3.0, 0.45), (-2.6, 0.55)],
    'Y': [(-4.5, -0.3), (-4.0, -0.8), (-3.5, 0.5), (-3.3, 0.6)],
    'Zr': [(-4.3, -0.35), (-4.0, -0.5), (-3.6, -0.6), (-3.2, 0.6)],
    'Nb': [(-2.3, 0.35)],
    'Mo': [(-3.3, 0.3), (-3.0, 0.5), (-2.8, 0.2), (-3.1, 0.0)],
    'Ru': [(-2.9, 0.4), (-2.6, 0.3), (-2.4, 0.5)],
    'Rh': [(-3.1, 1.7)],
    'Pd': [(-3.0, 0.6), (-2.8, 0.5)],
    'La': [(-3.2, 0.2), (-3.0, 0.6), (-2.9, 0.0), (-2.8, 1.0), (-2.7, 0.4), (-2.6, -0.3), (-2.5, 0.8), (-2.7, 1.3),
           (-2.9, -0.5), (-2.4, 1.1), (-2.6, 0.1), (-3.1, -0.2)],
    'Ce': [(-3.1, 0.3), (-2.9, 0.6), (-2.8, 0.1), (-2.7, 0.8), (-2.6, 0.4), (-2.5, 0.0), (-2.9, -0.2), (-2.4, 0.6),
           (-2.6, -0.4), (-3.0, 0.9), (-2.3, 0.3)],
    'Pr': [(-3.2, 0.5), (-3.0, 0.9), (-2.8, 1.2), (-2.7, 0.6), (-2.6, 1.0), (-2.9, 0.2), (-2.5, 0.4), (-2.6, -0.5),
           (-2.8, 1.4), (-3.1, 0.0)],
    'Nd': [(-3.2, 0.6), (-3.0, 1.0), (-2.9, 0.4), (-2.8, 0.8), (-2.7, 0.2), (-2.6, 1.4), (-2.5, 0.6), (-2.4, 0.8),
           (-3.1, 0.2), (-2.9, -0.3)],
    'Sm': [(-3.0, 0.8), (-2.9, 0.5), (-2.8, 1.1), (-2.7, 0.7), (-2.6, 1.3), (-2.5, 0.9), (-2.9, 0.2), (-2.7, 0.1)],
    'Eu': [(-3.1, 1.7), (-3.0, 1.7)],
    'Gd': [(-3.5, 1.2), (-3.3, 0.8), (-3.0, 1.2), (-2.8, 1.4), (-2.6, 1.0), (-2.5, 1.3), (-3.1, 0.2), (-2.9, -0.1),
           (-2.7, 0.0), (-3.0, -0.2), (-2.4, 1.5), (-3.7, 0.6)],
    'Tm': [(-3.3, 1.9), (-3.1, 1.6), (-3.0, 2.0), (-2.9, 1.5), (-2.8, 1.2), (-2.7, 1.4), (-3.0, 1.1), (-2.74, -0.43)],
    'Tb': [(-2.8, -0.6)],
    'Dy': [(-3.3, 0.9), (-3.0, 1.1), (-2.8, 0.6), (-2.6, 0.9), (-2.4, 1.2), (-3.2, -0.5), (-3.0, -0.2), (-2.7, 0.2)],
    'Ho': [(-3.0, 0.5), (-3.0, -0.2), (-2.5, -0.1), (-3.3, -0.4), (-2.8, 0.8)],
    'Er': [(-3.2, 1.0), (-3.0, 0.7), (-2.8, 1.2), (-2.6, 0.9), (-2.4, 1.1), (-3.1, 0.4), (-2.9, -0.1)],
    'Pb': [(-2.7, 0.2), (-2.5, -0.1), (-2.4, 0.3), (-2.3, -0.3), (-2.2, 0.1), (-2.1, 0.4), (-2.0, -0.2), (-1.9, 0.2),
           (-1.8, 0.5), (-1.7, 0.0), (-1.6, 0.3), (-1.5, 0.6), (-1.4, 0.2), (-1.3, 0.5), (-1.2, 0.7), (-1.1, 0.4),
           (-1.0, 0.6), (-2.6, -0.5), (-2.3, 0.6), (-1.9, 0.8)],
    'Th': [(-3.0, 1.8), (-2.7, 1.0), (-2.5, 0.8), (-2.8, 0.0), (-2.3, 1.0)],
}

OPEN_CIRCLE = {
    'Sr': [(-4.45, -0.49), (-4.35, -1.07), (-4.1, -1.0), (-3.9, -1.36), (-3.8, -1.56), (-3.6, -0.3)],
    'Mo': [(-3.2, -0.25)],
    'Ru': [(-3.2, 0.3), (-3.0, -0.1), (-3.3, -0.5)],
    'Pd': [(-3.8, 1.0), (-3.4, 0.5), (-3.3, 0.2), (-3.1, 0.0), (-3.4, -0.2)],
    'Ag': [(-2.95, 0.68), (-3.3, 0.58), (-3.1, 0.3), (-3.05, 0.0)],
    'Ba': [(-4.3, -0.4), (-3.7, -0.3), (-3.4, 0.1), (-3.2, 0.9), (-3.1, 0.6)],
    'Yb': [(-3.23, 1.75)], 'Lu': [(-3.29, 1.81)], 'Tb': [(-3.04, 1.64)], 'Ho': [(-3.18, 1.7)],
    'Er': [(-3.06, 1.74)], 'Ta': [(-3.04, 1.42)], 'W': [(-3.24, 1.19)], 'Re': [(-3.3, 2.46)],
    'Os': [(-3.0, 1.75)], 'Pt': [(-3.05, 1.65)], 'Au': [(-3.0, 1.0)], 'Bi': [(-3.12, 1.83)],
    'Th': [(-3.05, 1.85)],
}

TRI_UP = {
    'Ge': [(-2.9, -0.85), (-2.8, -1.1), (-2.7, -0.95), (-2.6, -1.15), (-2.5, -0.9), (-1.2, -0.04), (-0.5, 0.02),
           (-0.7, -0.24), (-1.5, -0.3)],
    'As': [(-2.87, 0.55), (-1.84, 0.65), (-1.2, 0.59), (-2.7, -0.04), (-2.6, -0.24), (-0.77, 0.45)],
    'Se': [(-2.7, 0.55), (-1.84, 0.55), (-1.2, 0.3), (-0.77, 0.2), (-2.8, 0.0), (-2.6, -0.24), (-0.87, -0.04)],
    'Mo': [(-2.8, 0.4), (-2.5, 0.3), (-2.2, 0.2)],
    'Cd': [(-2.6, -0.39), (-2.62, -0.5)],
    'Te': [(-2.63, 0.39), (-2.6, 0.3)],
}

TRI_DOWN = {
    'Ge': [(-2.3, -1.1)], 'Rb': [(-2.27, 0.35)], 'Nb': [(-3.0, 1.0), (-2.3, 0.5)],
    'Mo': [(-3.04, 1.1), (-3.1, 0.6), (-2.9, 0.4)], 'Ru': [(-3.0, 1.7), (-2.5, 0.6)],
    'Rh': [(-2.25, 0.88), (-2.14, 0.68), (-3.05, 1.75)], 'Pd': [(-3.3, 1.4), (-2.3, 0.6), (-2.2, 0.4)],
    'Ag': [(-3.06, 1.46), (-2.31, 0.82), (-2.31, 0.4)], 'Cd': [(-2.27, 0.35)], 'Te': [(-2.2, 0.58)],
    'Tm': [(-3.1, 1.0), (-2.9, 0.9), (-2.5, 0.9), (-2.2, 0.8)],
    'Yb': [(-3.3, 0.9), (-3.0, 0.8), (-2.8, 0.9), (-2.6, 0.7), (-2.4, 0.85), (-3.2, 1.8)],
    'Lu': [(-2.12, 0.41)], 'Hf': [(-3.06, 1.33), (-2.95, 0.55), (-2.2, 0.55)],
    'Tb': [(-3.2, 0.95), (-2.9, 0.85), (-2.6, 0.8), (-2.3, 0.75), (-3.0, 1.7)],
    'Dy': [(-3.1, 1.6), (-2.9, 1.4), (-2.7, 1.2)], 'Ho': [(-2.9, 1.3), (-2.7, 1.1), (-2.4, 0.9), (-2.2, 0.8)],
    'Er': [(-2.9, 1.3), (-2.6, 1.2), (-2.4, 0.9)], 'Os': [(-3.0, 1.1), (-2.7, 1.0), (-2.4, 0.9), (-3.1, 1.8)],
    'Ir': [(-3.12, 1.7), (-3.12, 0.92), (-2.8, 0.92), (-2.3, 0.86)],
    'Pt': [(-2.97, 0.9), (-2.97, 0.62), (-2.2, 0.9), (-2.1, 0.85)], 'Au': [(-2.16, 0.82)],
    'Th': [(-2.8, 1.1), (-2.3, 1.2), (-2.5, 0.9)], 'U': [(-2.97, 1.2), (-2.0, 0.62)],
}

OPEN_TRI = {
    'Ge': [(-2.0, -0.9), (-1.85, -0.9), (-1.7, -0.9)], 'Ho': [(-2.6, 1.3)],
    'Os': [(-2.2, 0.65), (-2.0, 0.6), (-1.8, 0.7)], 'Ir': [(-2.8, 0.62), (-2.16, 0.62), (-1.95, 0.62)],
    'Pt': [(-2.65, 0.33), (-1.9, 0.35), (-1.7, 0.3)], 'Th': [(-2.9, 1.4)],
}

OPEN_SQUARE = {
    'Ga': (-3.2, 0.1), 'Ge': (-3.3, -0.82), 'Rb': (-3.44, 2.4), 'Sr': (-3.49, 0.78), 'Nb': (-3.3, 1.8),
    'Mo': (-3.47, 0.72), 'Ru': (-3.34, 1.17), 'Rh': (-3.42, 1.65), 'Pd': (-3.6, 1.35), 'Ag': (-3.38, 1.36),
    'Cd': (-3.34, 1.4), 'Sn': (-3.29, 1.07), 'Ba': (-3.47, 0.97), 'La': (-3.44, 0.97), 'Ce': (-3.42, 0.94),
    'Pr': (-3.4, 1.27), 'Nd': (-3.49, 1.19), 'Sm': (-3.44, 1.29), 'Eu': (-3.4, 1.38), 'Gd': (-3.49, 1.54),
    'Tm': (-3.49, 1.42), 'Yb': (-3.44, 1.42), 'Hf': (-3.6, 1.07), 'Tb': (-3.47, 1.44), 'Dy': (-3.34, 1.7),
    'Ho': (-3.42, 1.35), 'Er': (-3.4, 1.54), 'Os': (-3.16, 1.72), 'Ir': (-3.44, 1.7), 'Pt': (-3.29, 1.75),
    'Au': (-3.27, 1.3), 'Pb': (-3.47, 1.0), 'Th': (-3.42, 1.3), 'U': (-3.29, 1.4),
}

GREY_SQUARE = {
    'Rb': (-3.12, 1.76), 'Nb': (-3.3, 0.9), 'Sn': (-3.2, 1.27), 'La': (-3.0, -0.9), 'Ce': (-3.0, -0.9),
    'Pr': (-3.0, -0.1), 'Nd': (-3.17, -0.96), 'Sm': (-3.12, -0.5), 'Eu': (-3.1, -1.0), 'Tm': (-3.17, 0.25),
    'Yb': (-3.1, -1.3), 'Hf': (-3.3, 0.6), 'Tb': (-3.14, -0.02), 'Dy': (-3.1, -0.7), 'Er': (-3.1, -0.5),
    'Ir': (-3.34, 0.39), 'Pb': (-3.14, 0.92), 'Th': (-3.1, 0.33),
}

BLACK_SQUARE = {
    'Nb': (-3.35, 0.95), 'Cd': (-2.9, -1.07), 'Lu': (-2.87, -0.27), 'Os': (-3.1, 0.1), 'Ir': (-2.9, 0.14),
    'Pt': (-2.87, -0.2),
}

ASTERISK = {
    'Mo': (-3.68, 1.3), 'Ru': (-3.66, 1.7), 'Rh': (-3.74, 1.75), 'Pd': (-3.9, 1.4), 'Ag': (-4.0, 1.0),
    'Tm': (-3.81, 1.85), 'Yb': (-3.7, 2.0), 'Lu': (-3.72, 2.44), 'Hf': (-3.7, 1.46), 'Tb': (-3.68, 1.83),
    'Dy': (-3.6, 1.8), 'Ho': (-3.68, 1.68), 'Er': (-3.72, 1.8), 'Os': (-3.59, 2.18), 'Pb': (-3.68, 1.7),
    'Th': (-3.64, 2.09), 'U': (-3.72, 2.03),
}

CROSS_X = {
    'Gd': [(-3.1, 0.5), (-2.9, 0.3), (-2.7, 0.6), (-2.5, 0.2), (-2.3, 0.4), (-2.8, 0.0)],
    'Tm': [(-3.2, 0.7), (-3.0, 0.5), (-2.8, 0.3), (-2.6, 0.5), (-2.4, 0.4)],
    'Yb': [(-3.2, 0.4), (-3.0, 0.1), (-2.9, 0.6), (-2.8, -0.2), (-2.7, 0.3), (-2.6, 0.0), (-2.5, 0.5), (-2.9, -0.6),
           (-2.7, -0.9)],
    'Tb': [(-3.3, 0.5), (-2.2, 0.1)],
    'Dy': [(-3.2, 0.6), (-3.0, 0.3), (-2.9, 0.8), (-2.8, -0.1), (-2.7, 0.5), (-2.5, 0.2), (-2.6, 0.8)],
    'Er': [(-3.3, 0.2), (-3.1, -0.3), (-2.9, 0.4), (-2.8, -0.1), (-2.7, 0.1), (-2.9, -0.6), (-3.0, 0.6)],
}

# upper limits: (Fe/H, from, to, colour)
LIMITS = {
    'Ga': [(-3.2, 0.0, -0.25, 'k')], 'As': [(-0.8, 0.9, 0.45, 'k'), (-0.72, 0.9, 0.45, 'k')],
    'Se': [(-0.9, 0.6, 0.2, 'k')], 'Rb': [(-3.12, 1.7, 0.85, 'grey')], 'Nb': [(-3.3, 1.7, 1.0, 'grey')],
    'Cd': [(-3.34, 1.3, 0.5, 'k')], 'Sn': [(-3.25, 1.0, 0.3, 'grey'), (-2.22, -0.4, -1.2, 'k')],
    'Pr': [(-3.0, -0.1, -0.9, 'grey')], 'Sm': [(-3.12, -0.5, -1.3, 'grey')], 'Tm': [(-3.17, 0.25, -0.6, 'grey')],
    'Hf': [(-3.3, 0.6, -0.6, 'grey')], 'Tb': [(-3.14, -0.02, -0.7, 'grey')], 'Dy': [(-3.1, -0.7, -1.3, 'grey')],
    'W': [(-2.5, 0.9, 0.0, 'k'), (-2.4, 0.9, 0.0, 'k')], 'Os': [(-3.0, 0.0, -1.0, 'k'), (-2.85, 0.0, -1.0, 'k')],
    'Ir': [(-2.9, 0.14, -0.9, 'k'), (-3.34, 0.39, -0.3, 'grey')], 'Pt': [(-2.87, -0.2, -1.2, 'k'), (-2.7, -0.5, -1.1, 'k')],
    'Hg': [(-2.52, 1.1, 0.0, 'k')],
    'Pb': [(-3.47, 1.0, 0.1, 'grey'), (-3.14, 0.92, 0.2, 'grey'), (-2.9, 0.5, -0.6, 'k'), (-2.8, 0.4, -0.5, 'k'),
           (-2.6, 0.3, -0.7, 'k')],
    'Bi': [(-2.59, 0.82, -0.25, 'k')], 'Th': [(-3.1, 0.33, -0.5, 'grey')],
    'U': [(-3.2, 1.3, 0.0, 'k'), (-3.0, 1.3, 0.1, 'k')],
}

MODELS = [
    (S_PROCESS, r'$\mathrm{s-process}$', '#3f78b8', (0, (7, 3))),
    (ECSN, r'$\mathrm{s+ECSN}$', '#5ec6ee', (0, (5, 3))),
    (NU_WINDS, r'$\mathrm{s+}\nu\mathrm{winds}$', '#2f8c3a', (0, (6, 2, 1.5, 2))),
    (NSM, r'$\mathrm{s+ECSN+NSM}$', '#d5c24a', (0, (1, 1.3))),
    (BHM, r'$\mathrm{s+ECSN+NSM+BHM}$', '#f3697b', (0, (5, 2.5, 1.2, 2.5))),
    (MRSN, r'$\mathrm{s+ECSN+NSM+BHM+MRSN}$', '#b2327c', '-'),
]
GREY = '#8a8a8a'

W, H = 789, 583
PW, PH = 88, 88
X0, Y0 = 66.7, 6.3

fig = plt.figure(figsize=(W / 100, H / 100), dpi=100)


def even_label(v, pos):
    iv = int(round(v))
    if abs(v - iv) > 1e-6 or iv % 2:
        return ''
    return r'$%d$' % iv


def pts(group, el):
    p = group.get(el, [])
    return [q[0] for q in p], [q[1] for q in p]


for r, row in enumerate(LAYOUT):
    for c, el in enumerate(row):
        if el is None:
            continue
        ax = fig.add_axes([(X0 + PW * c) / W, 1 - (Y0 + PH * (r + 1)) / H, PW / W, PH / H])
        ax.set_xlim(-5.05, 0.6)
        ax.set_ylim(-2.35, 2.8)

        x, y = pts(GREY_PLUS, el)
        ax.plot(x, y, '+', color=GREY, ms=5, mew=0.9, zorder=1)
        x, y = pts(GREY_STAR, el)
        ax.plot(x, y, '*', mfc='none', mec=GREY, ms=6, mew=0.8, zorder=1)

        for data, label, col, ls in MODELS:
            if el in data:
                lw = 2.0 if ls == '-' else 2.3
                ax.plot(data[el][0], data[el][1], color=col, ls=ls, lw=lw, zorder=2)

        for (fx, y1, y2, col) in LIMITS.get(el, []):
            ax.annotate('', xy=(fx, y2), xytext=(fx, y1),
                        arrowprops=dict(arrowstyle='-|>', color=col, lw=0.9, mutation_scale=5), zorder=4)

        x, y = pts(BLACK_DOT, el)
        ax.plot(x, y, 'o', color='k', ms=3.6, zorder=4)
        x, y = pts(OPEN_CIRCLE, el)
        ax.plot(x, y, 'o', mfc='none', mec='k', ms=4.5, mew=0.8, zorder=4)
        x, y = pts(TRI_UP, el)
        ax.plot(x, y, '^', color='k', ms=4.8, zorder=4)
        x, y = pts(TRI_DOWN, el)
        ax.plot(x, y, 'v', color='k', ms=4.8, zorder=4)
        x, y = pts(OPEN_TRI, el)
        ax.plot(x, y, '^', mfc='none', mec='k', ms=4.5, mew=0.7, zorder=4)
        x, y = pts(CROSS_X, el)
        ax.plot(x, y, 'x', color='k', ms=4.5, mew=0.8, zorder=4)
        if el in OPEN_SQUARE:
            ax.plot(*OPEN_SQUARE[el], 's', mfc='none', mec='#555555', ms=8, mew=1.0, zorder=4)
        if el in GREY_SQUARE:
            ax.plot(*GREY_SQUARE[el], 's', color=GREY, ms=7, zorder=4)
        if el in BLACK_SQUARE:
            ax.plot(*BLACK_SQUARE[el], 's', color='k', ms=7, zorder=4)
        if el in ASTERISK:
            ax.plot(*ASTERISK[el], marker=(6, 2, 0), color='k', ms=6.5, mew=0.8, zorder=4)

        ax.text(0.94, 0.95, r'$\mathrm{%s}$' % el, transform=ax.transAxes, ha='right', va='top', fontsize=12.5)

        ax.xaxis.set_major_locator(MultipleLocator(1))
        ax.xaxis.set_minor_locator(MultipleLocator(0.5))
        ax.yaxis.set_major_locator(MultipleLocator(1))
        ax.yaxis.set_minor_locator(MultipleLocator(0.5))
        ax.tick_params(which='both', direction='in', top=True, right=True, color='#222222', width=0.8)
        ax.tick_params(which='major', length=4.5, labelsize=10.5, pad=3)
        ax.tick_params(which='minor', length=2.5)
        for s in ax.spines.values():
            s.set_linewidth(0.9)
            s.set_color('#222222')
        if c == 0:
            ax.yaxis.set_major_formatter(FuncFormatter(even_label))
        else:
            ax.set_yticklabels([])
        if r == len(LAYOUT) - 1:
            ax.xaxis.set_major_formatter(FuncFormatter(even_label))
        else:
            ax.set_xticklabels([])

# legend in the empty top-left corner
for i, (data, label, col, ls) in enumerate(MODELS):
    yy = 1 - (13 + 14.2 * i) / H
    fig.add_artist(Line2D([67 / W, 106 / W], [yy, yy], color=col, ls=ls, lw=1.1, transform=fig.transFigure))
    fig.text(109 / W, yy, label, color=col, fontsize=9.5, va='center', ha='left')

fig.text(418 / W, 1 - 569 / H, r'$\mathrm{[Fe/H]}$', ha='center', va='center', fontsize=16)
fig.text(22 / W, 0.5, r'$\mathrm{[X/Fe]}$', ha='center', va='center', rotation=90, fontsize=16)

fig.savefig('out.png', dpi=100)
